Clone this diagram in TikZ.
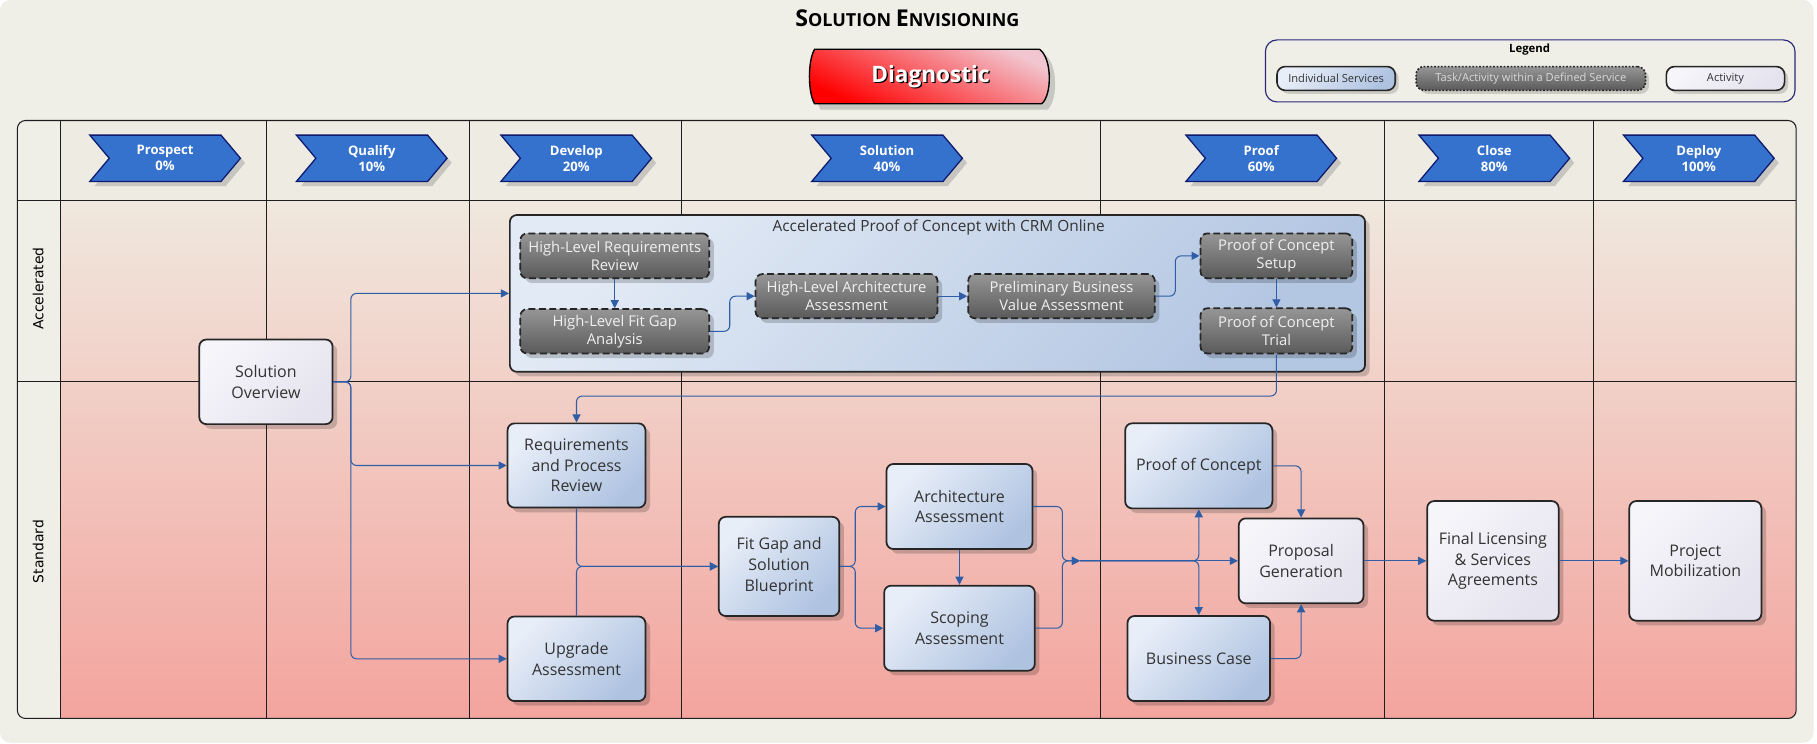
\documentclass[tikz,border=0pt]{standalone}
\usepackage{fontspec}
\setmainfont{Open Sans}
\newfontfamily\lanefont{DejaVu Sans}
\usetikzlibrary{arrows.meta,shadows,shapes.symbols,calc}
\definecolor{bgc}{HTML}{EFEFE7}
\definecolor{hdrc}{HTML}{EEEBE2}
\definecolor{laneT}{HTML}{F0E8DE}
\definecolor{laneB}{HTML}{F3A49E}
\definecolor{framec}{HTML}{1E1E1E}
\definecolor{svcL}{HTML}{E8EEF8}
\definecolor{svcD}{HTML}{AFC3E1}
\definecolor{pocL}{HTML}{E2EAF5}
\definecolor{pocD}{HTML}{B3C6E2}
\definecolor{actL}{HTML}{F5F5FA}
\definecolor{actD}{HTML}{E5E3EE}
\definecolor{taskL}{HTML}{969696}
\definecolor{taskD}{HTML}{5A5A5A}
\definecolor{bordc}{HTML}{262626}
\definecolor{linec}{HTML}{2F5EA6}
\definecolor{chevc}{HTML}{3572CE}
\definecolor{chevb}{HTML}{0E1A6E}
\definecolor{txtc}{HTML}{333333}
\definecolor{legb}{HTML}{2A2A78}
\definecolor{diagHi}{HTML}{F2C6D0}
\tikzset{
 box/.style={rounded corners=6pt, draw=bordc, line width=1.5pt, align=center, text=txtc,
   font=\fontsize{13.8}{17.8}\selectfont, inner sep=2pt,
   drop shadow={shadow xshift=4pt, shadow yshift=-4pt, fill=black, opacity=0.18}},
 svc/.style={box, top color=svcL, bottom color=svcD, shading angle=45},
 act/.style={box, top color=actL, bottom color=actD, shading angle=45},
 task/.style={box, dash pattern=on 6pt off 3pt, top color=taskL, bottom color=taskD,
   text=white!94!black, font=\fontsize{12.8}{15.6}\selectfont},
 conn/.style={draw=linec, line width=0.9pt, rounded corners=5pt, -{Triangle[length=7pt,width=7pt]}},
 chev/.style={signal, signal to=east, signal from=west, signal pointer angle=100, draw=chevb,
   line width=1.1pt, fill=chevc, text=white, font=\bfseries\fontsize{11.3}{13.8}\selectfont,
   align=center, minimum width=130pt, minimum height=40pt, inner sep=0pt,
   drop shadow={shadow xshift=4pt, shadow yshift=-4pt, fill=gray, opacity=0.35}},
 lanelab/.style={rotate=90, font=\lanefont\fontsize{12}{14}\selectfont, text=black},
 legitem/.style={rounded corners=7pt, line width=1.4pt, draw=bordc, inner sep=0pt,
   minimum height=20.5pt, font=\fontsize{9.6}{11}\selectfont,
   drop shadow={shadow xshift=3pt, shadow yshift=-3pt, fill=black, opacity=0.15}},
 gridline/.style={draw=framec, line width=0.9pt},
}
\begin{document}
\begin{tikzpicture}[x=1pt,y=-1pt]
\useasboundingbox (0,0) rectangle (1568,642);
% page background
\fill[white] (0,0) rectangle (1568,642);
\fill[bgc, rounded corners=9pt] (0,0) rectangle (1565,641);

% title
\node[font=\bfseries] (title) at (783,16)
  {\fontsize{20}{22}\selectfont S\fontsize{15.5}{22}\selectfont OLUTION \fontsize{20}{22}\selectfont E\fontsize{15.5}{22}\selectfont NVISIONING};

% Diagnostic banner
\path[draw=black, line width=1.2pt, top color=diagHi, middle color=red, bottom color=red, shading angle=-25,
  drop shadow={shadow xshift=5pt, shadow yshift=-5pt, fill=gray, opacity=0.35}]
  (703,42.5) -- (897,42.5) .. controls (908,50) and (908,82) .. (899,89.5)
  -- (703,89.5) .. controls (697,80) and (697,52) .. (703,42.5) -- cycle;
\node[text=black, font=\bfseries\fontsize{19.5}{22}\selectfont] (diagsh) at (804.2,67.2) {Diagnostic};
\node[text=white, font=\bfseries\fontsize{19.5}{22}\selectfont] (diag) at (803,66) {Diagnostic};

% Legend
\node[draw=legb, line width=1pt, rounded corners=10pt, minimum width=457pt, minimum height=53.5pt, inner sep=0pt] (legend) at (1320.5,61.2) {};
\node[font=\bfseries\fontsize{9.8}{11}\selectfont] (legtitle) at (1320,43) {Legend};
\node[legitem, minimum width=102pt, top color=svcL, bottom color=svcD, shading angle=45, text=txtc] (li1) at (1153,67.7) {Individual Services};
\node[legitem, minimum width=198pt, dash pattern=on 1.5pt off 1.5pt, top color=taskL, bottom color=taskD, text=white!85!black] (li2) at (1321,67.7) {Task/Activity within a Defined Service};
\node[legitem, minimum width=102pt, top color=actL, bottom color=actD, shading angle=45, text=txtc] (li3) at (1489,67.7) {Activity};

% Swimlane frame
\fill[bgc, rounded corners=7pt] (15,104) rectangle (1550,620);
\begin{scope}
\clip[rounded corners=7pt] (15,104) rectangle (1550,620);
\fill[hdrc] (52,104) rectangle (1550,173);
\shade[top color=laneT, bottom color=laneB] (52,173) rectangle (1550,620);
\end{scope}
\draw[gridline, rounded corners=7pt] (15,104) rectangle (1550,620);
\draw[gridline] (15,173) -- (1550,173);
\draw[gridline] (15,329) -- (1550,329);
\foreach \xx in {52,230,405,588,950,1195,1375} {\draw[gridline] (\xx,104) -- (\xx,620);}

\node[lanelab] (lacc) at (33,249) {Accelerated};
\node[lanelab] (lstd) at (33,476) {Standard};

% Phase chevrons
\node[chev] (c1) at (142.5,136.6) {Prospect\\0\%};
\node[chev] (c2) at (320.8,136.6) {Qualify\\10\%};
\node[chev] (c3) at (497.3,136.6) {Develop\\20\%};
\node[chev] (c4) at (765.5,136.6) {Solution\\40\%};
\node[chev] (c5) at (1088.4,136.6) {Proof\\60\%};
\node[chev] (c6) at (1289.5,136.6) {Close\\80\%};
\node[chev] (c7) at (1466,136.6) {Deploy\\100\%};

% Accelerated container
\node[box, top color=pocL, bottom color=pocD, shading angle=45, minimum width=738pt, minimum height=135.3pt] (pocbox) at (809,253.2) {};
\node[text=txtc, font=\fontsize{13.3}{15}\selectfont] (poctitle) at (810,196) {Accelerated Proof of Concept with CRM Online};

\node[task, minimum width=163pt, minimum height=38.8pt] (hlrr) at (530.5,220.8) {High-Level Requirements\\Review};
\node[task, minimum width=163pt, minimum height=38.3pt] (hlfga) at (530.5,285.9) {High-Level Fit Gap\\Analysis};
\node[task, minimum width=157pt, minimum height=38.2pt] (hlaa) at (730.5,255.6) {High-Level Architecture\\Assessment};
\node[task, minimum width=161pt, minimum height=38.2pt] (pbva) at (916,255.6) {Preliminary Business\\Value Assessment};
\node[task, minimum width=131pt, minimum height=38.8pt] (pocs) at (1101.5,220.8) {Proof of Concept\\Setup};
\node[task, minimum width=131pt, minimum height=39pt] (poct) at (1101.5,285.5) {Proof of Concept\\Trial};

% Standard / activities
\node[act, minimum width=115pt, minimum height=73pt] (so) at (229.5,329.5) {Solution\\Overview};
\node[svc, minimum width=119pt, minimum height=72.7pt] (req) at (497.5,401.7) {Requirements\\and Process\\Review};
\node[svc, minimum width=119pt, minimum height=73pt] (upg) at (497.5,568.5) {Upgrade\\Assessment};
\node[svc, minimum width=104pt, minimum height=85.6pt] (fg) at (672.3,488.8) {Fit Gap and\\Solution\\Blueprint};
\node[svc, minimum width=126pt, minimum height=73.4pt] (arch) at (828,437.1) {Architecture\\Assessment};
\node[svc, minimum width=130pt, minimum height=73.4pt] (scop) at (828,542.1) {Scoping\\Assessment};
\node[svc, minimum width=127pt, minimum height=73.4pt] (poc) at (1034.5,402) {Proof of Concept};
\node[act, minimum width=107.6pt, minimum height=73.3pt] (prop) at (1122.8,484) {Proposal\\Generation};
\node[svc, minimum width=123pt, minimum height=73.4pt] (bc) at (1034.5,568.3) {Business Case};
\node[act, minimum width=113.5pt, minimum height=103.2pt] (fla) at (1288.3,484) {Final Licensing\\\& Services\\Agreements};
\node[act, minimum width=114pt, minimum height=103.2pt] (pm) at (1463,484) {Project\\Mobilization};

\coordinate (m) at (932,484);

% Connectors
\draw[conn] (so.east) -- ++(15,0) |- (pocbox.west);
\draw[conn] (so.east) -- ++(15,0) |- (req.west);
\draw[conn] (so.east) -- ++(15,0) |- (upg.west);
\draw[conn] (hlrr.south) -- (hlfga.north);
\draw[conn] (hlfga.east) -- ++(17,0) |- (hlaa.west);
\draw[conn] (hlaa.east) -- (pbva.west);
\draw[conn] (pbva.east) -- ++(17,0) |- (pocs.west);
\draw[conn] (pocs.south) -- (poct.north);
\draw[conn] (poct.south) -- ++(0,36) -| (req.north);
\draw[conn] (req.south) |- (fg.west);
\draw[conn] (upg.north) |- (fg.west);
\draw[conn] (fg.east) -- ++(13,0) |- (arch.west);
\draw[conn] (fg.east) -- ++(13,0) |- (scop.west);
\draw[conn] (arch.south) -- (scop.north);
\draw[conn] (arch.east) -- ++(25,0) |- (m);
\draw[conn] (scop.east) -- ++(23,0) |- (m);
\draw[conn] (m) -- (prop.west);
\draw[conn] (m) -| (poc.south);
\draw[conn] (m) -| (bc.north);
\draw[conn] (poc.east) -| (prop.north);
\draw[conn] (bc.east) -| (prop.south);
\draw[conn] (prop.east) -- (fla.west);
\draw[conn] (fla.east) -- (pm.west);
\end{tikzpicture}
\end{document}
